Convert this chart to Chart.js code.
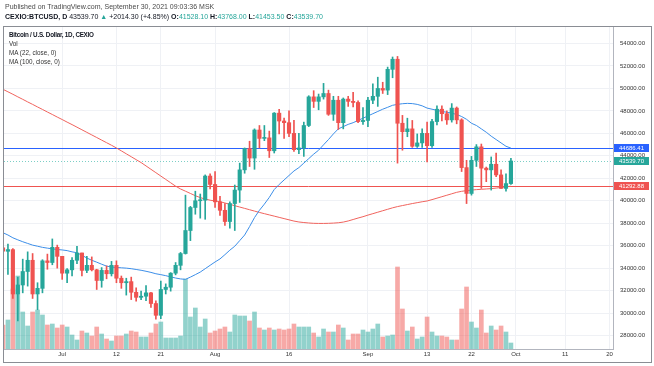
<!DOCTYPE html>
<html>
<head>
<meta charset="utf-8">
<script src="https://cdn.jsdelivr.net/npm/chart.js@4.4.0/dist/chart.umd.min.js"></script>
<style>
  html, body { margin: 0; padding: 0; background: #fff; }
  #wrap { position: relative; width: 654px; height: 366px; font-family: "Liberation Sans", Arial, sans-serif; color: #131722; }
  #chart { position: absolute; left: 0; top: 0; }
  .line { position: absolute; left: 5px; white-space: nowrap; font-size: 7px; line-height: 9px; }
  .pub { top: 2px; color: #4a4a4a; }
  .sym { top: 12px; }
  .sym b { color: #131722; }
  .up { color: #26a69a; }
  .legend { position: absolute; left: 9px; top: 30px; font-size: 6.3px; line-height: 9px; color: #333; }
  .legend b { color: #131722; font-family: "Liberation Sans Narrow", "Liberation Sans", Arial, sans-serif; letter-spacing: -0.25px; }
</style>
</head>
<body>
<div id="wrap">
  <canvas id="chart" width="654" height="366"></canvas>
  <div class="line pub">Published on TradingView.com, September 30, 2021 09:03:36 MSK</div>
  <div class="line sym"><b>CEXIO:BTCUSD, D</b> 43539.70 <span class="up">▲</span> +2014.30 (+4.85%) <b>O:</b><span class="up">41528.10</span> <b>H:</b><span class="up">43768.00</span> <b>L:</b><span class="up">41453.50</span> <b>C:</b><span class="up">43539.70</span></div>
  <div class="legend">
    <b>Bitcoin / U.S. Dollar, 1D, CEXIO</b><br>
    Vol<br>
    MA (22, close, 0)<br>
    MA (100, close, 0)
  </div>
</div>
<script>
// daily candles, Jun 19 - Sep 30 2021 (Jun 19 sits just past the left edge)
const dates = [
  'Jun 19','Jun 20','Jun 21','Jun 22','Jun 23','Jun 24','Jun 25','Jun 26','Jun 27','Jun 28','Jun 29','Jun 30',
  'Jul 1','Jul 2','Jul 3','Jul 4','Jul 5','Jul 6','Jul 7','Jul 8','Jul 9','Jul 10','Jul 11','Jul 12','Jul 13','Jul 14','Jul 15',
  'Jul 16','Jul 17','Jul 18','Jul 19','Jul 20','Jul 21','Jul 22','Jul 23','Jul 24','Jul 25','Jul 26','Jul 27','Jul 28','Jul 29','Jul 30','Jul 31',
  'Aug 1','Aug 2','Aug 3','Aug 4','Aug 5','Aug 6','Aug 7','Aug 8','Aug 9','Aug 10','Aug 11','Aug 12','Aug 13','Aug 14','Aug 15',
  'Aug 16','Aug 17','Aug 18','Aug 19','Aug 20','Aug 21','Aug 22','Aug 23','Aug 24','Aug 25','Aug 26','Aug 27','Aug 28','Aug 29','Aug 30','Aug 31',
  'Sep 1','Sep 2','Sep 3','Sep 4','Sep 5','Sep 6','Sep 7','Sep 8','Sep 9','Sep 10','Sep 11','Sep 12','Sep 13','Sep 14','Sep 15',
  'Sep 16','Sep 17','Sep 18','Sep 19','Sep 20','Sep 21','Sep 22','Sep 23','Sep 24','Sep 25','Sep 26','Sep 27','Sep 28','Sep 29','Sep 30'
];
const open = [
  35800,
  35500,35650,31700,32500,33700,34700,31700,32200,34650,34500,
  35850,35050,33550,33850,34700,35350,33800,34250,33850,32900,
  33800,33500,34250,33100,32700,32800,31850,31400,31500,31800,
  30850,29800,32100,32300,33550,34250,35300,37350,39400,40000,
  40050,42200,41450,39900,39150,38150,39750,40950,42750,44650,
  43800,46300,45550,45600,44450,47800,47100,46950,46000,44550,
  44700,46700,49250,48850,49250,49550,47700,48950,46950,49050,
  48850,48750,47050,47150,48950,49300,50000,49850,51700,52600,
  46900,46150,46400,44850,45150,46000,44900,47050,48150,47750,
  47200,48250,47200,42950,40650,43600,44800,42900,42750,43250,
  42300,41100,41528.1
];
const high = [
  36400,
  36150,35750,33200,34800,35450,35300,32700,34750,35250,36600,
  36050,35050,33950,34950,35950,35350,35050,35000,33900,34050,
  34200,34600,34650,33300,33100,33200,32250,31950,32450,31850,
  31100,32850,32600,33600,34500,35400,40500,39500,40850,40600,
  42300,42400,42600,40400,39750,39900,41400,43350,44700,45300,
  46400,46700,46700,46200,47850,48150,47350,48000,47150,46000,
  47000,49350,49800,49500,50450,49850,49300,49300,49150,49300,
  49650,48900,48300,49200,50400,51000,50550,51900,52800,52850,
  47600,47350,47150,45950,46400,47000,47250,48450,48450,48000,
  48650,48350,47300,43600,43950,45000,45050,43000,43900,44250,
  42750,42400,43768
];
const low = [
  34800,
  33450,31300,29300,31800,32400,31300,30300,31800,33900,34300,
  34000,33000,32700,33300,34400,33300,33600,33750,32100,32300,
  33050,33300,32700,32200,31600,31200,31050,31200,31100,30500,
  29450,29500,31700,31950,33400,33850,35250,36450,38800,38450,
  38350,41050,39400,38700,37800,37550,37350,39850,42450,43050,
  42800,44700,45350,43850,44250,45950,45550,45700,44400,44200,
  43950,46600,48300,48100,49050,47600,47150,46350,46400,48400,
  48350,46950,46800,46600,48650,48400,49550,49450,50950,43350,
  44500,45700,44750,44750,44750,43450,44750,46750,47100,46800,
  47000,46850,42600,39750,40500,43050,41100,41700,40950,42150,
  41100,40850,41453.5
];
const close = [
  35500,
  35650,31700,32500,33700,34700,31700,32200,34650,34500,35850,
  35050,33550,33850,34700,35350,33800,34250,33850,32900,33800,
  33500,34250,33100,32700,32800,31850,31400,31500,31800,30850,
  29800,32100,32300,33550,34250,35300,37350,39400,40000,40050,
  42200,41450,39900,39150,38150,39750,40950,42750,44650,43800,
  46300,45550,45600,44450,47800,47100,46950,46000,44550,44700,
  46700,49250,48850,49250,49550,47700,48950,46950,49050,48850,
  48750,47050,47150,48950,49300,50000,49850,51700,52600,46900,
  46150,46400,44850,45150,46000,44900,47050,48150,47750,47200,
  48250,47200,42950,40650,43600,44800,42900,42750,43250,42300,
  41100,41528.1,43539.7
];
const volume = [
  2400,
  2900,6000,7300,3700,2300,3700,3900,3400,2400,2500,
  2100,2400,2200,1400,900,1800,1600,1300,2200,1500,
  1000,800,1300,1300,1500,1800,1700,1200,1200,1600,
  2500,2700,1100,1100,1100,1300,7000,3200,4100,2200,
  3000,1600,1800,2000,2200,1700,3400,3300,3300,2800,
  3700,2100,1900,2100,1900,2000,1900,2000,2500,2200,
  2200,2200,1600,1200,2000,1700,1700,2400,2100,900,
  1500,1500,1900,1700,2000,2500,1200,1300,1400,8200,
  4000,1800,2200,1000,1200,3200,1700,1300,1300,1200,
  900,900,4000,6200,2700,2100,3900,1600,2300,1900,
  2300,1700,600
];
const ma22 = [
  37150,
  36950,36700,36520,36350,36200,36050,35950,35850,35780,35720,
  35660,35620,35560,35450,35370,35150,34900,34700,34530,34350,
  34180,34100,34060,34030,34000,33950,33880,33810,33720,33620,
  33500,33420,33330,33220,33120,33040,33000,33200,33420,33650,
  33950,34250,34550,34820,35200,35600,35950,36450,36950,37700,
  38500,39150,39700,40300,41000,41450,41850,42250,42650,42950,
  43350,43750,44150,44500,44980,45450,45950,46400,46600,46800,
  46950,47150,47350,47550,47750,47950,48150,48320,48500,48580,
  48640,48670,48650,48580,48450,48250,48150,48050,47950,47880,
  47800,47680,47500,47250,46900,46700,46400,46100,45750,45450,
  45150,44850,44686.41
];
const ma100 = [
  49920,
  49700,49480,49250,49030,48800,48580,48350,48130,47900,47680,
  47450,47230,47000,46780,46550,46320,46090,45860,45630,45400,
  45170,44940,44700,44440,44180,43920,43660,43400,43100,42800,
  42500,42200,41900,41600,41300,41050,40850,40650,40450,40280,
  40150,40050,39980,39920,39800,39680,39560,39440,39320,39200,
  39080,38960,38850,38740,38630,38520,38410,38300,38190,38110,
  38060,38020,37990,37980,37980,37990,38010,38040,38100,38200,
  38330,38460,38580,38720,38850,38980,39110,39240,39370,39480,
  39570,39660,39750,39830,39910,39980,40100,40230,40360,40490,
  40620,40750,40840,40900,40950,40990,41020,41050,41080,41130,
  41180,41240,41292.88
];
// time axis labels (day index from Jun 19) and price ticks
const tickDays = [12, 23, 32, 43, 58, 74, 86, 95, 104, 114, 123];
const tickLabels = ['Jul', '12', '21', 'Aug', '16', 'Sep', '13', '22', 'Oct', '11', '20'];
const priceTicks = [28000, 30000, 32000, 34000, 36000, 38000, 40000, 42000, 44000, 46000, 48000, 50000, 52000, 54000];
// last values shown on the price scale
const priceLines = [
  { value: 44686.41, color: '#2962ff', dash: [] },
  { value: 43539.70, color: '#7ccfc6', dash: [1, 2] },
  { value: 41292.88, color: '#ef5350', dash: [] }
];
const labelColors = ['#2962ff', '#26a69a', '#ef5350'];

const UP = '#26a69a', DOWN = '#ef5350';
const candleColor = dates.map((d, i) => close[i] >= open[i] ? UP : DOWN);
const volColor = dates.map((d, i) => close[i] >= open[i] ? 'rgba(38,166,154,0.5)' : 'rgba(239,83,80,0.5)');

const priceLinePlugin = {
  id: 'priceLines',
  beforeDatasetsDraw(chart) {
    const { ctx, chartArea, scales: { y } } = chart;
    ctx.save();
    ctx.lineWidth = 1;
    priceLines.forEach(p => {
      const py = Math.round(y.getPixelForValue(p.value)) + 0.5;
      ctx.strokeStyle = p.color;
      ctx.setLineDash(p.dash);
      ctx.beginPath();
      ctx.moveTo(chartArea.left, py);
      ctx.lineTo(chartArea.right, py);
      ctx.stroke();
    });
    ctx.restore();
  },
  afterDraw(chart) {
    const { ctx, chartArea, scales: { x, y } } = chart;
    ctx.save();
    ctx.font = '6px "Liberation Sans", Arial, sans-serif';
    ctx.textBaseline = 'middle';
    priceLines.forEach((p, k) => {
      const py = Math.round(y.getPixelForValue(p.value));
      ctx.fillStyle = labelColors[k];
      ctx.fillRect(chartArea.right + 1, py - 4, 35, 8);
      ctx.fillStyle = '#fff';
      ctx.fillText(p.value.toFixed(2), chartArea.right + 6, py + 0.5);
    });
    // outer frame
    ctx.strokeStyle = '#8a8d94';
    ctx.lineWidth = 1;
    ctx.strokeRect(chartArea.left - 0.5, chartArea.top - 0.5, y.right - chartArea.left, x.bottom - chartArea.top);
    ctx.restore();
  }
};

new Chart(document.getElementById('chart'), {
  type: 'bar',
  data: {
    datasets: [
      {
        label: 'Body',
        data: dates.map((d, i) => ({ x: i, y: [open[i], close[i]] })),
        backgroundColor: candleColor,
        barThickness: 3.5,
        minBarLength: 1,
        grouped: false,
        order: 0
      },
      {
        label: 'Wick',
        data: dates.map((d, i) => ({ x: i, y: [low[i], high[i]] })),
        backgroundColor: candleColor,
        barThickness: 1,
        grouped: false,
        order: 1
      },
      {
        type: 'line',
        label: 'MA (22, close, 0)',
        data: dates.map((d, i) => ({ x: i, y: ma22[i] })),
        borderColor: '#3c8ee8',
        borderWidth: 1,
        pointRadius: 0,
        order: 3
      },
      {
        type: 'line',
        label: 'MA (100, close, 0)',
        data: dates.map((d, i) => ({ x: i, y: ma100[i] })),
        borderColor: '#f0635d',
        borderWidth: 1,
        pointRadius: 0,
        order: 3
      },
      {
        label: 'Vol',
        data: dates.map((d, i) => ({ x: i, y: volume[i] })),
        backgroundColor: volColor,
        yAxisID: 'yVol',
        barThickness: 4,
        grouped: false,
        order: 5
      }
    ]
  },
  options: {
    responsive: false,
    animation: false,
    devicePixelRatio: 1,
    layout: {
      padding: { left: 4, top: 27, right: 2, bottom: 3 }
    },
    plugins: {
      legend: { display: false },
      tooltip: { enabled: false }
    },
    scales: {
      x: {
        type: 'linear',
        offset: false,
        min: 0.2,
        max: 123.7,
        afterBuildTicks: axis => { axis.ticks = tickDays.map(v => ({ value: v })); },
        afterFit: axis => { axis.height = 14; },
        ticks: {
          autoSkip: false,
          maxRotation: 0,
          padding: 2,
          color: '#333',
          font: { size: 6, family: '"Liberation Sans", Arial, sans-serif' },
          callback: v => tickLabels[tickDays.indexOf(v)] ?? ''
        },
        grid: { color: '#eff1f5', drawTicks: false, offset: false },
        border: { color: '#b2b5be' }
      },
      y: {
        position: 'right',
        min: 26800,
        max: 55470,
        afterBuildTicks: axis => { axis.ticks = priceTicks.map(v => ({ value: v })); },
        afterFit: axis => { axis.width = 39; },
        ticks: {
          padding: 7,
          color: '#333',
          font: { size: 6, family: '"Liberation Sans", Arial, sans-serif' },
          callback: v => v.toFixed(2)
        },
        grid: { color: '#eff1f5', drawTicks: false },
        border: { color: '#b2b5be' }
      },
      yVol: {
        display: false,
        min: 0,
        max: 32200
      }
    }
  },
  plugins: [priceLinePlugin]
});
</script>
</body>
</html>
